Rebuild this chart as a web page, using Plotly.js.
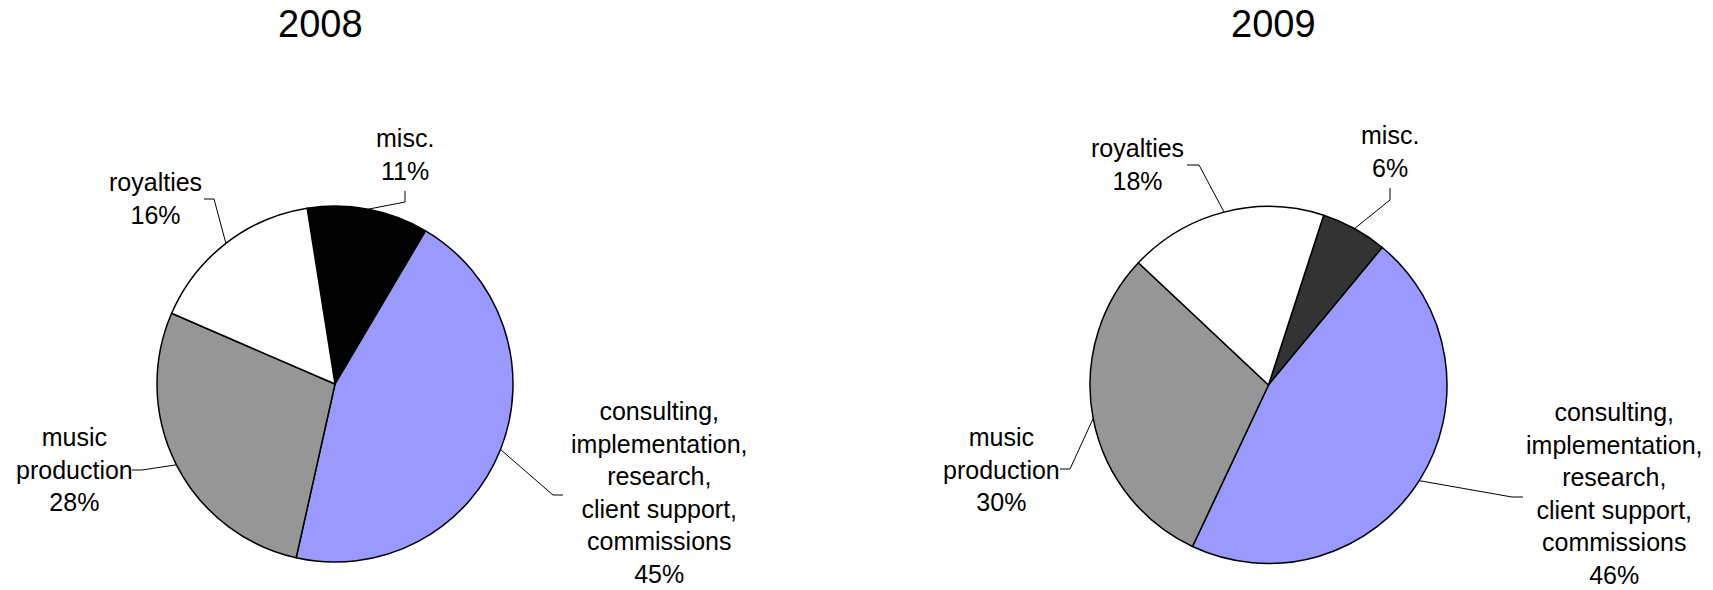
<!DOCTYPE html>
<html>
<head>
<meta charset="utf-8">
<script src="https://cdn.plot.ly/plotly-3.0.1.min.js"></script>
<style>html,body{margin:0;padding:0;background:#fff;}#chart{width:1713px;height:590px;}</style>
</head>
<body>
<div id="chart"></div>
<script>
// ---- data ----
const years = ['2008', '2009'];
const categories = ['misc.', 'consulting,<br>implementation,<br>research,<br>client support,<br>commissions', 'music<br>production', 'royalties'];
const values2008 = [11, 45, 28, 16];
const values2009 = [6, 46, 30, 18];

// ---- styling / layout ----
const W = 1713, H = 590;
const FONT = 'Liberation Sans, Arial, sans-serif';
const colors2008 = ['#000000', '#9999FF', '#969696', '#FFFFFF'];
const colors2009 = ['#333333', '#9999FF', '#969696', '#FFFFFF'];
const pies = [
  {values: values2008, colors: colors2008, cx: 335, cy: 384, r: 178, rot: -9, titleX: 320,
   labels: [ // label centre, elbow end, elbow corner (px)
     {lx: 405, ly: 155, ex: 405, ey: 191, kx: 405, ky: 202},
     {lx: 659, ly: 492, ex: 563, ey: 495, kx: 553, ky: 495},
     {lx: 74, ly: 469, ex: 132, ey: 470, kx: 142, ky: 470},
     {lx: 155, ly: 198, ex: 204, ey: 199, kx: 214, ky: 199}
   ]},
  {values: values2009, colors: colors2009, cx: 1268.5, cy: 385, r: 178.5, rot: 18, titleX: 1273,
   labels: [
     {lx: 1390, ly: 151, ex: 1390, ey: 188, kx: 1390, ky: 200},
     {lx: 1614, ly: 493, ex: 1523, ey: 497, kx: 1512, ky: 497},
     {lx: 1001, ly: 469, ex: 1060, ey: 469, kx: 1070, ky: 469},
     {lx: 1137, ly: 164, ex: 1187, ey: 165, kx: 1199, ky: 165}
   ]}
];

const px = x => x / W;
const py = y => 1 - y / H;

const traces = [];
const annotations = [];
const shapes = [];

pies.forEach((p, idx) => {
  traces.push({
    type: 'pie',
    values: p.values,
    labels: categories,
    sort: false,
    direction: 'clockwise',
    rotation: p.rot,
    textinfo: 'none',
    hoverinfo: 'skip',
    marker: {colors: p.colors, line: {color: '#000000', width: 1.5}},
    domain: {x: [px(p.cx - p.r), px(p.cx + p.r)], y: [py(p.cy + p.r), py(p.cy - p.r)]},
    showlegend: false
  });
  annotations.push({
    text: years[idx], xref: 'paper', yref: 'paper', x: px(p.titleX), y: py(24),
    xanchor: 'center', yanchor: 'middle', showarrow: false,
    font: {family: FONT, size: 38, color: '#000'}
  });
  const total = p.values.reduce((a, b) => a + b, 0);
  let start = p.rot;
  p.values.forEach((v, i) => {
    const span = v / total * 360;
    const mid = (start + span / 2) * Math.PI / 180;
    start += span;
    const edgeX = p.cx + p.r * Math.sin(mid);
    const edgeY = p.cy - p.r * Math.cos(mid);
    const L = p.labels[i];
    annotations.push({
      text: categories[i] + '<br>' + v + '%', xref: 'paper', yref: 'paper',
      x: px(L.lx), y: py(L.ly), xanchor: 'center', yanchor: 'middle', align: 'center',
      showarrow: false, font: {family: FONT, size: 25, color: '#000'}
    });
    shapes.push({
      type: 'path', xref: 'paper', yref: 'paper',
      path: `M ${px(L.ex)} ${py(L.ey)} L ${px(L.kx)} ${py(L.ky)} L ${px(edgeX)} ${py(edgeY)}`,
      line: {color: '#000', width: 1}
    });
  });
});

const layout = {
  width: W, height: H,
  margin: {l: 0, r: 0, t: 0, b: 0},
  paper_bgcolor: '#fff', plot_bgcolor: '#fff',
  font: {family: FONT},
  showlegend: false,
  annotations: annotations,
  shapes: shapes
};

Plotly.newPlot('chart', traces, layout, {displayModeBar: false, staticPlot: true});
</script>
</body>
</html>
